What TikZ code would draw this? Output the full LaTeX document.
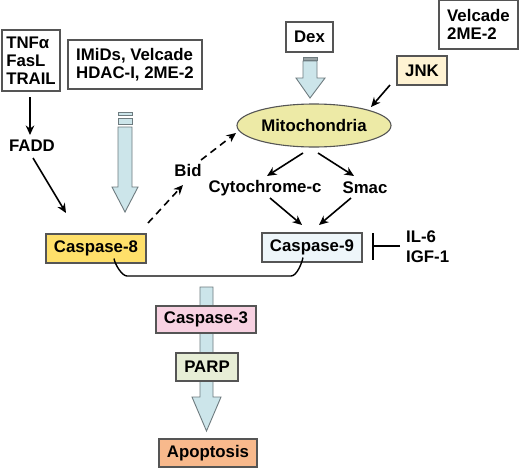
\documentclass[tikz,border=0pt]{standalone}
\usepackage{fontspec}
\setmainfont{Liberation Sans}
\usetikzlibrary{arrows.meta,shapes.geometric}
\definecolor{fatfill}{HTML}{CCE5EA}
\definecolor{fatline}{HTML}{6E7B7F}
\definecolor{c8}{HTML}{FFE06A}
\definecolor{c9}{HTML}{EEF6FA}
\definecolor{c3}{HTML}{F8D2E2}
\definecolor{parpc}{HTML}{E7EED6}
\definecolor{apoc}{HTML}{F8B98C}
\definecolor{jnkc}{HTML}{FFF3D3}
\definecolor{mitoc}{HTML}{EDEAA6}
\definecolor{boxline}{HTML}{555555}
\begin{document}
\begin{tikzpicture}[x=1pt,y=-1pt,
  every node/.style={font=\fontsize{16.8}{18}\selectfont\bfseries},
  wbox/.style={draw=boxline,line width=1.1pt,fill=white,inner sep=0pt},
  cbox/.style={draw=boxline,line width=1.1pt,inner sep=0pt,minimum height=28pt},
  lbl/.style={inner sep=0pt},
  arr/.style={line width=1.6pt,-{Stealth[length=9.5pt,width=8.5pt]}},
  darr/.style={arr,dash pattern=on 7pt off 5pt},
  fat/.style={draw=fatline,line width=0.9pt,fill=fatfill,line join=miter}]
\useasboundingbox (0,0) rectangle (520,469);
\fill[white] (0,0) rectangle (520,469);

% fat arrows
\filldraw[fat] (118,112) rectangle (132,115);
\filldraw[fat] (118,118) rectangle (132,124);
\filldraw[fat] (118,127) -- (132,127) -- (132,187) -- (138,187) -- (125,212) -- (112,187) -- (118,187) -- cycle;
\filldraw[draw=fatline,fill=fatline!70] (303,57) rectangle (317,60);
\filldraw[fat] (303,61) -- (317,61) -- (317,78) -- (325,78) -- (310,98) -- (296,78) -- (303,78) -- cycle;
\filldraw[fat] (200,287) -- (213,287) -- (213,397) -- (221,397) -- (206.5,431) -- (192,397) -- (200,397) -- cycle;

% boxes
\node[wbox,minimum width=58pt,minimum height=61pt,align=left] (tnf) at (31,60.5) {TNFα\\FasL\\TRAIL};
\node[wbox,minimum width=134pt,minimum height=49pt,align=left] (imid) at (135,64.5) {IMiDs, Velcade\\HDAC-I, 2ME-2};
\node[wbox,minimum width=47pt,minimum height=30pt] (dex) at (309.5,37) {Dex};
\node[wbox,minimum width=79pt,minimum height=49pt,align=left] (velc) at (478.5,24.5) {Velcade\\2ME-2};
\node[cbox,fill=jnkc,minimum width=50pt,minimum height=29pt] (jnk) at (422,70.5) {JNK};
\node[draw=boxline,line width=1.1pt,fill=mitoc,ellipse,minimum width=154pt,minimum height=43pt,inner sep=0pt] (mito) at (314,125.5) {Mitochondria};

\node[lbl] (fadd) at (32,146) {FADD};
\node[lbl] (bid) at (188,170) {Bid};
\node[lbl] (cyto) at (265,188) {Cytochrome-c};
\node[lbl] (smac) at (365,188) {Smac};
\node[lbl,anchor=west] (il6) at (406,237) {IL-6};
\node[lbl,anchor=west] (igf) at (406,257) {IGF-1};

\node[cbox,fill=c8,minimum width=100pt,minimum height=29pt] (casp8) at (96,248.5) {Caspase-8};
\node[cbox,fill=c9,minimum width=100pt,minimum height=29pt] (casp9) at (312,247.5) {Caspase-9};
\node[cbox,fill=c3,minimum width=100pt,minimum height=27pt] (casp3) at (206,319.5) {Caspase-3};
\node[cbox,fill=parpc,minimum width=62pt,minimum height=28pt] (parp) at (207,367) {PARP};
\node[cbox,fill=apoc,minimum width=98pt,minimum height=28pt] (apo) at (208,453) {Apoptosis};

% connector end points
\coordinate (a1) at (30,97);  \coordinate (a2) at (30,135);
\coordinate (b1) at (33,158); \coordinate (b2) at (66,213);
\coordinate (d1) at (148,223); \coordinate (d2) at (183,185);
\coordinate (d3) at (201,160); \coordinate (d4) at (236,133);
\coordinate (j1) at (390,85); \coordinate (j2) at (371,107);
\coordinate (m1) at (303,153); \coordinate (m2) at (267,176);
\coordinate (m3) at (318,153); \coordinate (m4) at (354,176);
\coordinate (k1) at (270,198); \coordinate (k2) at (302,225);
\coordinate (k3) at (351,198); \coordinate (k4) at (319,225);
\coordinate (i1) at (400,246); \coordinate (i2) at (372,246);

\draw[arr] (a1) -- (a2);
\draw[arr] (b1) -- (b2);
\draw[darr] (d1) -- (d2);
\draw[darr] (d3) -- (d4);
\draw[arr] (j1) -- (j2);
\draw[arr] (m1) -- (m2);
\draw[arr] (m3) -- (m4);
\draw[arr] (k1) -- (k2);
\draw[arr] (k3) -- (k4);
\draw[line width=1.6pt,-{Bar[width=27pt,line width=2.2pt]}] (i1) -- (i2);

% brace
\draw[line width=1.4pt] ([xshift=18pt,yshift=5pt]casp8.south) .. controls +(1,6) and +(-5,0) .. (127,276) -- (291,276) .. controls +(6,0) and +(-1,5) .. ([xshift=-9pt,yshift=5pt]casp9.south);
\end{tikzpicture}
\end{document}
